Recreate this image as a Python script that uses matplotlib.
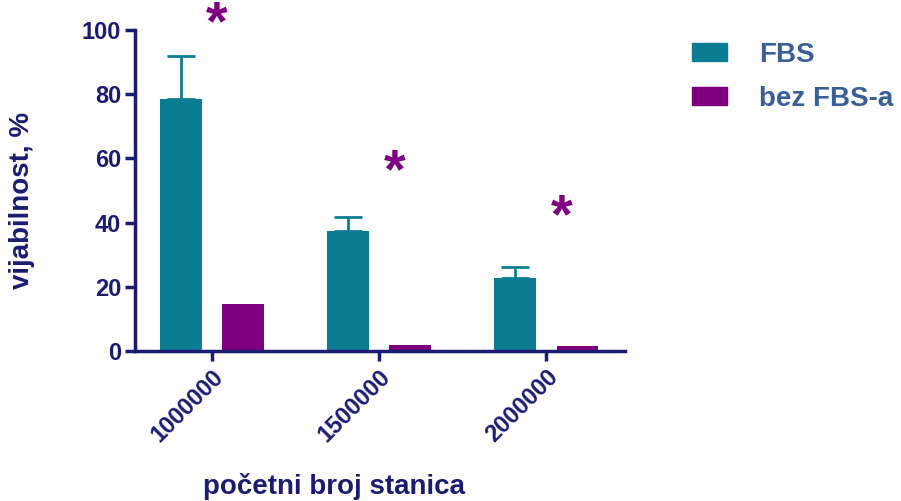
import matplotlib
matplotlib.use("Agg")
import matplotlib.pyplot as plt
import numpy as np
from matplotlib.patches import Patch

# data
CATEGORIES = ["1000000", "1500000", "2000000"]
FBS_VALUES = [78.5, 37.4, 22.7]
FBS_ERRORS = [13.4, 4.3, 3.5]
BEZ_FBS_VALUES = [14.6, 1.8, 1.6]
STAR_X = [0.03, 1.09, 2.09]
STAR_HEIGHTS = [101.5, 55.5, 41.5]

TEAL = "#0B7D92"
PURPLE = "#7F007F"
NAVY = "#1B1B72"
LEGEND_TEXT = "#3A5F96"
FONT = ["Liberation Sans", "DejaVu Sans"]

plt.rcParams["font.family"] = FONT
plt.rcParams["font.weight"] = "bold"

x = np.arange(len(CATEGORIES))
width = 0.25
offset = 0.186

fig = plt.figure(figsize=(9.01, 5.01), dpi=100)
ax = fig.add_axes([0.1498, 0.2994, 0.5439, 0.6406])

ax.bar(x - offset, FBS_VALUES, width, color=TEAL, zorder=2)
ax.errorbar(x - offset, FBS_VALUES, yerr=[np.zeros(3), FBS_ERRORS],
            fmt="none", ecolor=TEAL, elinewidth=2, capsize=10, capthick=2, zorder=1)
ax.bar(x + offset, BEZ_FBS_VALUES, width, color=PURPLE, zorder=2)

for sx, h in zip(STAR_X, STAR_HEIGHTS):
    ax.text(sx, h, "*", color=PURPLE, fontsize=40, ha="center", va="center",
            fontweight="bold", clip_on=False)

ax.set_xlim(-0.46, 2.47)
ax.set_ylim(0, 100)
ax.set_yticks([0, 20, 40, 60, 80, 100])
ax.set_xticks(x)
ax.set_xticklabels(CATEGORIES, rotation=45, ha="right", rotation_mode="anchor")

for side in ["top", "right"]:
    ax.spines[side].set_visible(False)
for side in ["left", "bottom"]:
    ax.spines[side].set_color(NAVY)
    ax.spines[side].set_linewidth(2.5)

ax.tick_params(axis="both", colors=NAVY, width=2.5, length=7, labelsize=17,
               direction="out", pad=3)
for lbl in ax.get_xticklabels() + ax.get_yticklabels():
    lbl.set_fontweight("bold")
    lbl.set_color(NAVY)

ax.set_ylabel("vijabilnost, %", fontsize=20, fontweight="bold", color=NAVY)
ax.yaxis.set_label_coords(-0.205, 0.47)
fig.text(0.371, 0.028, "početni broj stanica", fontsize=20, fontweight="bold",
         color=NAVY, ha="center", va="center")

handles = [Patch(facecolor=TEAL, edgecolor=TEAL), Patch(facecolor=PURPLE, edgecolor=PURPLE)]
leg = fig.legend(handles, ["FBS", "bez FBS-a"], loc="upper left",
                 bbox_to_anchor=(0.747, 0.955), frameon=False, fontsize=20,
                 handlelength=1.25, handleheight=0.6, handletextpad=1.15,
                 labelspacing=0.65, borderpad=0.2)
for t in leg.get_texts():
    t.set_color(LEGEND_TEXT)
    t.set_fontweight("bold")

fig.savefig("out.png", dpi=100)
